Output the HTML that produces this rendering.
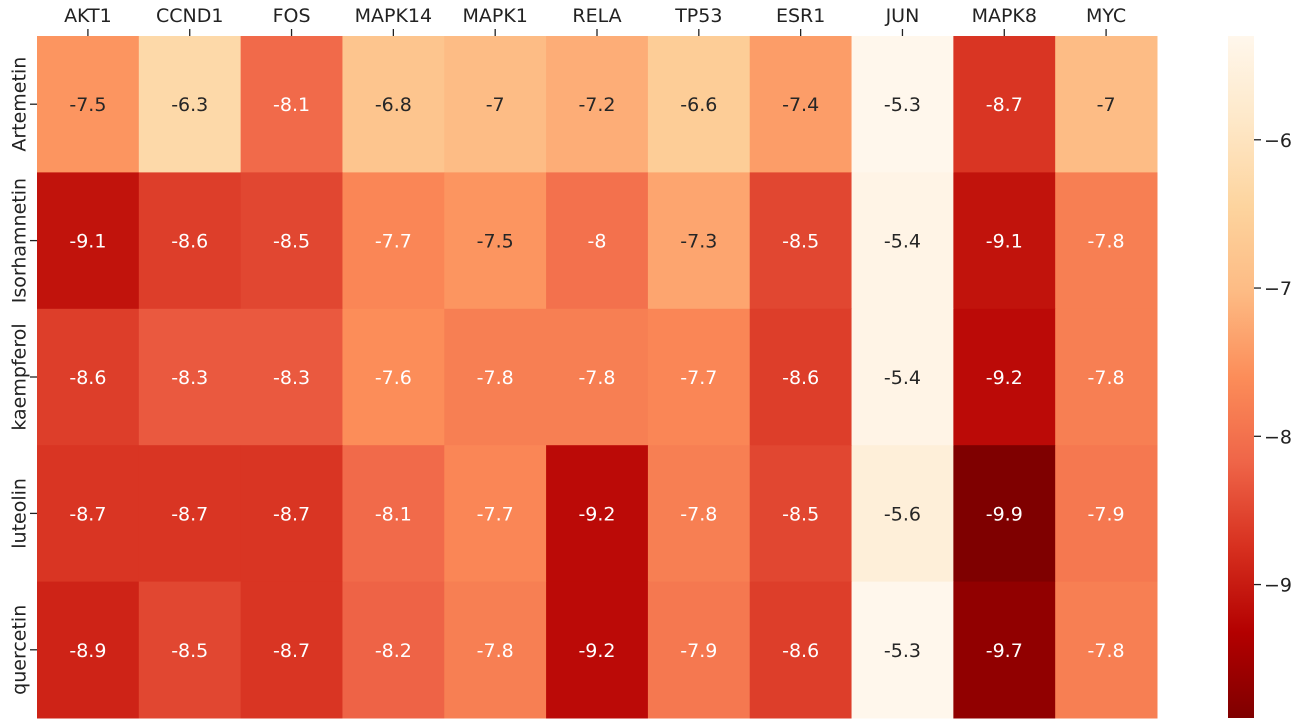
<!DOCTYPE html>
<html><head><meta charset="utf-8"><style>
body{margin:0;background:#fff;width:1306px;height:721px;overflow:hidden;font-family:"DejaVu Sans","Liberation Sans",sans-serif}
text{font-family:"DejaVu Sans","Liberation Sans",sans-serif}
</style></head><body>
<svg id="chart" width="1306" height="721" xmlns="http://www.w3.org/2000/svg">
<defs><linearGradient id="cb" x1="0" y1="1" x2="0" y2="0">
<stop offset="0" stop-color="#7f0000"/><stop offset="0.125" stop-color="#b30000"/><stop offset="0.25" stop-color="#d7301f"/><stop offset="0.375" stop-color="#ef6548"/><stop offset="0.5" stop-color="#fc8d59"/><stop offset="0.625" stop-color="#fdbb84"/><stop offset="0.75" stop-color="#fdd49e"/><stop offset="0.875" stop-color="#fee8c8"/><stop offset="1" stop-color="#fff7ec"/>
</linearGradient></defs>
<g id="cells"></g>
</svg>
<script>
const genes=["AKT1","CCND1","FOS","MAPK14","MAPK1","RELA","TP53","ESR1","JUN","MAPK8","MYC"];
const compounds=["Artemetin","Isorhamnetin","kaempferol","luteolin","quercetin"];
const rowArtemetin=[-7.5,-6.3,-8.1,-6.8,-7,-7.2,-6.6,-7.4,-5.3,-8.7,-7];
const rowIsorhamnetin=[-9.1,-8.6,-8.5,-7.7,-7.5,-8,-7.3,-8.5,-5.4,-9.1,-7.8];
const rowKaempferol=[-8.6,-8.3,-8.3,-7.6,-7.8,-7.8,-7.7,-8.6,-5.4,-9.2,-7.8];
const rowLuteolin=[-8.7,-8.7,-8.7,-8.1,-7.7,-9.2,-7.8,-8.5,-5.6,-9.9,-7.9];
const rowQuercetin=[-8.9,-8.5,-8.7,-8.2,-7.8,-9.2,-7.9,-8.6,-5.3,-9.7,-7.8];
const cbTicks=[-6,-7,-8,-9];
const rows=[rowArtemetin,rowIsorhamnetin,rowKaempferol,rowLuteolin,rowQuercetin];
const X0=37,X1=1157,Y0=36,Y1=718;
const all=rows.flat();const vmin=Math.min(...all),vmax=Math.max(...all);
const cw=(X1-X0)/genes.length,rh=(Y1-Y0)/compounds.length;
const stops=["#7f0000","#b30000","#d7301f","#ef6548","#fc8d59","#fdbb84","#fdd49e","#fee8c8","#fff7ec"].map(h=>[1,3,5].map(i=>parseInt(h.substr(i,2),16)));
function color(v){let t=(v-vmin)/(vmax-vmin)*(stops.length-1);let i=Math.min(Math.floor(t),stops.length-2),f=t-i;
const c=stops[i].map((a,k)=>Math.round(a+(stops[i+1][k]-a)*f));return [`rgb(${c})`,c];}
function lum(c){const l=c.map(x=>{x/=255;return x<=0.03928?x/12.92:Math.pow((x+0.055)/1.055,2.4)});return 0.2126*l[0]+0.7152*l[1]+0.0722*l[2];}
const svg=document.getElementById('chart');const NS="http://www.w3.org/2000/svg";
function mk(tag,attrs,parent){const e=document.createElementNS(NS,tag);for(const k in attrs)e.setAttribute(k,attrs[k]);(parent||svg).appendChild(e);return e;}
rows.forEach((r,ri)=>r.forEach((v,ci)=>{
 const [col,c]=color(v);
 const rect=mk('rect',{x:X0+ci*cw,y:Y0+ri*rh,width:cw+0.5,height:rh+0.5,fill:col});
 
 
 const t=mk('text',{x:X0+(ci+0.5)*cw,y:Y0+(ri+0.5)*rh+7,'text-anchor':'middle','font-size':19,fill:lum(c)>0.408?'#262626':'#ffffff'});
 t.textContent=String(v);
 
 
}));
genes.forEach((g,i)=>{const x=X0+(i+0.5)*cw;
 mk('line',{x1:x,x2:x,y1:Y0-7,y2:Y0,stroke:'#222','stroke-width':1.3});
 const t=mk('text',{x:x,y:22,'text-anchor':'middle','font-size':19,fill:'#222'});t.textContent=g;
 
 });
compounds.forEach((c,i)=>{const y=Y0+(i+0.5)*rh;
 mk('line',{x1:X0-7,x2:X0,y1:y,y2:y,stroke:'#222','stroke-width':1.3});
 const t=mk('text',{x:20,y:y,'text-anchor':'middle','font-size':19,fill:'#222',transform:`rotate(-90 20 ${y})`,'dominant-baseline':'middle'});t.textContent=c;
 
 });
const cb=mk('rect',{x:1228,y:Y0,width:26,height:Y1-Y0,fill:'url(#cb)'});


cbTicks.forEach(v=>{const y=Y1-(v-vmin)/(vmax-vmin)*(Y1-Y0);
 mk('line',{x1:1254,x2:1261,y1:y,y2:y,stroke:'#222','stroke-width':1.3});
 const t=mk('text',{x:1264,y:y+7,'font-size':19,fill:'#222'});t.textContent='\u2212'+Math.abs(v);
 
 });
</script>
</body></html>
